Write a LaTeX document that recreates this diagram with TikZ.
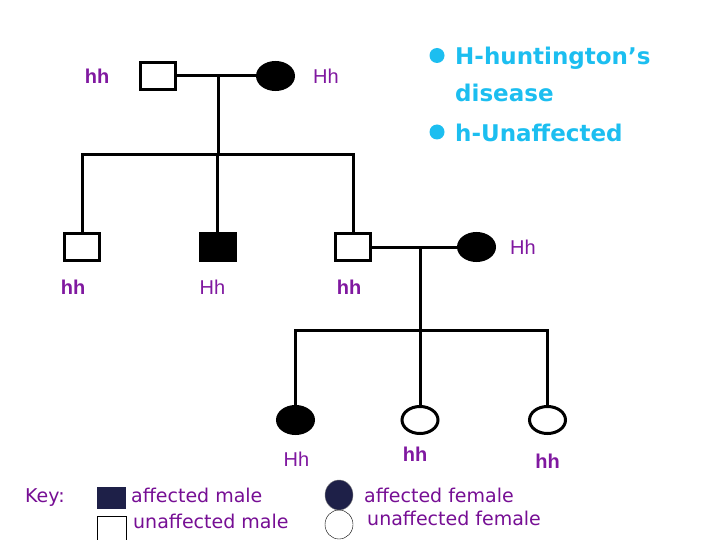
\documentclass[tikz,border=0pt]{standalone}
\usepackage{fontspec}
\setmainfont{Liberation Sans}
\newfontfamily\comicfont{DejaVu Sans}
\usetikzlibrary{positioning}
\usetikzlibrary{shapes.geometric}
\definecolor{genopurple}{RGB}{128,24,160}
\definecolor{keypurple}{RGB}{118,14,148}
\definecolor{notecyan}{RGB}{28,190,240}
\definecolor{keynavy}{RGB}{30,32,72}
\tikzset{
  male/.style={rectangle,draw,line width=3pt,minimum width=35pt,minimum height=27pt,inner sep=0pt},
  female/.style={ellipse,draw,line width=3pt,minimum width=36pt,minimum height=27pt,inner sep=0pt},
  link/.style={line width=3pt},
  geno/.style={text=genopurple,inner sep=0pt,font=\fontsize{20}{20}\selectfont},
  genob/.style={geno,font=\fontsize{20}{20}\selectfont\bfseries},
  notetext/.style={text=notecyan,inner sep=0pt,anchor=base west,font=\comicfont\fontsize{23}{23}\selectfont\bfseries},
  bullet/.style={circle,fill=notecyan,minimum size=15pt,inner sep=0pt},
  keytext/.style={text=keypurple,inner sep=0pt,anchor=base west,font=\comicfont\fontsize{19}{19}\selectfont},
}
\begin{document}
\begin{tikzpicture}[x=1pt,y=-1pt]
\useasboundingbox (0,0) rectangle (720,540);
% first generation
\node[male] (gf) at (158,76) {};
\node[female,fill=black] (gm) at (275.5,76) {};
\node[genob] (gfl) at (97,76) {hh};
\node[geno,right=18pt of gm] (gml) {Hh};
\coordinate (u1) at (218,76);
\coordinate (s1) at (218,155);
\draw[link] (gf) -- (gm);
\draw[link] (u1) -- (s1);

% second generation
\node[male] (c1) at (82,247) {};
\node[male,fill=black] (c2) at (217.5,247) {};
\node[male] (c3) at (353,247) {};
\node[female,fill=black] (sp) at (476.5,247) {};
\draw[link] (c1.north) -- (c1.north |- s1) -- (c3.north |- s1) -- (c3.north);
\draw[link] (c2.north) -- (c2.north |- s1);
\node[genob] (c1l) at (73,287) {hh};
\node[geno] (c2l) at (212.5,287) {Hh};
\node[genob] (c3l) at (349,287) {hh};
\node[geno,right=14pt of sp] (spl) {Hh};
\coordinate (u2) at (420,247);
\coordinate (s2) at (420,330);
\draw[link] (c3) -- (sp);

% third generation
\node[female,fill=black] (g1) at (295.5,420) {};
\node[female] (g2) at (420,420) {};
\node[female] (g3) at (547.5,420) {};
\draw[link] (g1.north) -- (g1.north |- s2) -- (g3.north |- s2) -- (g3.north);
\draw[link] (g2.north) -- (s2) -- (u2);
\node[geno] (g1l) at (296.5,459.5) {Hh};
\node[genob] (g2l) at (415,454) {hh};
\node[genob] (g3l) at (547.5,461.5) {hh};

% note
\node[bullet] (b1) at (437,55.5) {};
\node[notetext] (n1) at (455,65) {H-huntington’s};
\node[notetext] (n2) at (455,102) {disease};
\node[bullet] (b2) at (437,132) {};
\node[notetext] (n3) at (455,142) {h-Unaffected};

% key
\node[keytext] (key) at (25,502) {Key:};
\node[rectangle,fill=keynavy,minimum width=29pt,minimum height=22pt,inner sep=0pt] (kam) at (111.5,498) {};
\node[rectangle,draw,thin,minimum width=29pt,minimum height=28pt,inner sep=0pt] (kum) at (111.5,530) {};
\node[keytext] (kaml) at (131,502) {affected male};
\node[keytext] (kuml) at (133,528) {unaffected male};
\node[ellipse,fill=keynavy,draw=gray,thin,minimum width=28pt,minimum height=30pt,inner sep=0pt] (kaf) at (339,495) {};
\node[ellipse,draw,thin,minimum width=28pt,minimum height=29pt,inner sep=0pt] (kuf) at (339,524.5) {};
\node[keytext] (kafl) at (364,502) {affected female};
\node[keytext] (kufl) at (367,525) {unaffected female};

\end{tikzpicture}
\end{document}
